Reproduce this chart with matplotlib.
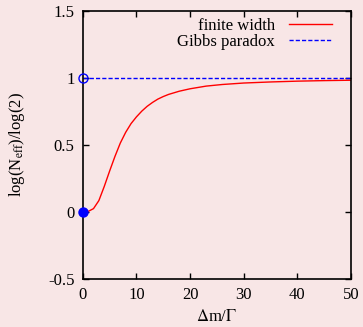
import matplotlib
matplotlib.use("Agg")
import matplotlib.pyplot as plt
from matplotlib.ticker import FuncFormatter

# finite width curve
dm_over_gamma = [0, 1, 2, 3, 4, 5, 6, 7, 8, 9, 10, 11, 12, 13, 14, 15, 16, 18, 20,
                 23, 26, 30, 35, 40, 45, 50]
log_neff = [0.0, 0.004, 0.025, 0.085, 0.19, 0.305, 0.415, 0.515, 0.595, 0.66, 0.71,
            0.753, 0.789, 0.818, 0.843, 0.862, 0.878, 0.902, 0.92,
            0.94, 0.952, 0.963, 0.971, 0.977, 0.981, 0.984]

# Gibbs paradox: jump from 0 to 1
gibbs_x = [0, 50]
gibbs_y = [1, 1]

xticks = [0, 10, 20, 30, 40, 50]
yticks = [-0.5, 0, 0.5, 1, 1.5]

bg = '#f8e6e6'
plt.rcParams['font.family'] = ['Liberation Serif', 'DejaVu Serif']
plt.rcParams['mathtext.fontset'] = 'stix'

fig = plt.figure(figsize=(3.63, 3.27), dpi=100, facecolor=bg)
ax = fig.add_axes([0.228, 0.147, 0.739, 0.819])
ax.set_facecolor(bg)

ax.plot(dm_over_gamma, log_neff, color='red', lw=1.0, label='finite width')
ax.plot(gibbs_x, gibbs_y, color='blue', lw=1.0, ls=(0, (3, 1.5)), label='Gibbs paradox')
ax.plot([0], [1], 'o', mfc='none', mec='blue', ms=6.5, mew=1.0, clip_on=False, zorder=5)
ax.plot([0], [0], 'o', color='blue', ms=6.5, clip_on=False, zorder=5)

ax.set_xlim(0, 50)
ax.set_ylim(-0.5, 1.5)
ax.set_xticks(xticks)
ax.set_yticks(yticks)
ax.yaxis.set_major_formatter(FuncFormatter(lambda v, p: ('%g' % v).replace('\u2212', '-')))
ax.tick_params(direction='in', length=4, width=1, top=True, right=True,
               labelsize=12, pad=6)
for s in ax.spines.values():
    s.set_linewidth(1.2)

ax.set_xlabel(r'$\Delta$m/$\Gamma$', fontsize=12, labelpad=4)
ax.set_ylabel(r'log(N$_{\rm eff}$)/log(2)', fontsize=12, labelpad=15)

ax.legend(loc='upper right', bbox_to_anchor=(0.966, 1.011), frameon=False,
          markerfirst=False, fontsize=12, handlelength=2.6, handletextpad=0.8,
          borderaxespad=0.2, labelspacing=0.0)

fig.savefig('out.png', dpi=100, facecolor=bg)
